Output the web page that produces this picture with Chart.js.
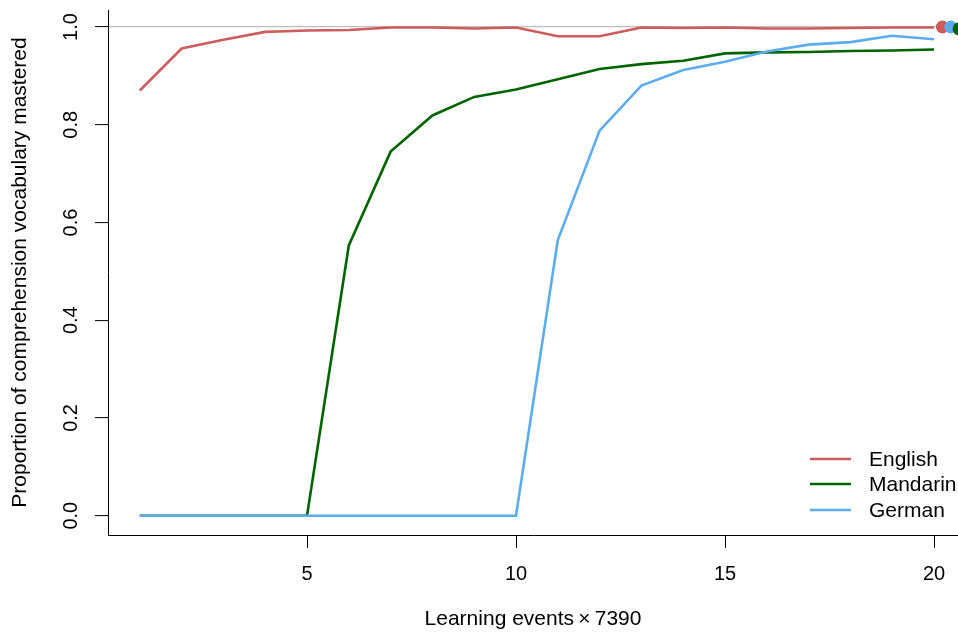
<!DOCTYPE html>
<html>
<head>
<meta charset="utf-8">
<script src="https://cdn.jsdelivr.net/npm/chart.js@4/dist/chart.umd.min.js"></script>
<style>
html,body{margin:0;padding:0;background:#fff;overflow:hidden;}
#wrap{position:relative;width:958px;height:637px;}
</style>
</head>
<body>
<div id="wrap"><canvas id="c" width="958" height="637"></canvas></div>
<script>
// ---- data ----
const steps = [1,2,3,4,5,6,7,8,9,10,11,12,13,14,15,16,17,18,19,20];
const english  = [0.870,0.956,0.974,0.990,0.993,0.994,0.999,0.999,0.997,0.999,0.981,0.981,0.999,0.998,0.999,0.997,0.997,0.998,0.999,0.999];
const mandarin = [0,0,0,0,0,0.553,0.745,0.819,0.857,0.872,0.893,0.914,0.924,0.931,0.946,0.948,0.949,0.951,0.952,0.954];
const german   = [0,0,0,0,0,0,0,0,0,0,0.564,0.788,0.880,0.912,0.929,0.950,0.964,0.969,0.982,0.975];
const languages = ['English','Mandarin','German'];
const colors = ['#CD5C5C','#006400','#5CACEE'];
const endX = [20.2, 20.6, 20.4];      // end markers (English, Mandarin, German)
const endY = [1.0, 0.996, 1.0];
const xTicks = [5,10,15,20];
const yTicks = [0,0.2,0.4,0.6,0.8,1.0];
const xTitle = 'Learning events\u2009\u00D7\u20097390';
const yTitle = 'Proportion of comprehension vocabulary mastered';

const FONT = "'Liberation Sans', Arial, Helvetica, sans-serif";
Chart.defaults.color = '#000';
Chart.defaults.font.family = FONT;

const series = [english, mandarin, german];
const datasets = [];
// end markers: Mandarin on top, then German, then English
const markerOrder = [3,1,2];
series.forEach((s, i) => {
  datasets.push({
    type: 'scatter',
    label: languages[i] + ' end',
    data: [{x: endX[i], y: endY[i]}],
    backgroundColor: colors[i],
    borderColor: colors[i],
    pointRadius: 6.5,
    pointBorderWidth: 0,
    clip: false,
    order: markerOrder[i]
  });
});
const lineOrder = [6,5,4];
series.forEach((s, i) => {
  datasets.push({
    type: 'line',
    label: languages[i],
    data: steps.map((x, k) => ({x: x, y: s[k]})),
    borderColor: colors[i],
    backgroundColor: colors[i],
    borderWidth: 2.6,
    pointRadius: 0,
    tension: 0,
    fill: false,
    order: lineOrder[i]
  });
});

const legendPlugin = {
  id: 'rlegend',
  afterDraw(chart) {
    const ctx = chart.ctx;
    const ys = [459, 484, 510];
    ctx.save();
    ctx.font = '21px ' + FONT;
    ctx.textBaseline = 'middle';
    ctx.textAlign = 'left';
    languages.forEach((name, i) => {
      ctx.strokeStyle = colors[i];
      ctx.lineWidth = 2.6;
      ctx.beginPath();
      ctx.moveTo(810, ys[i]);
      ctx.lineTo(851, ys[i]);
      ctx.stroke();
      ctx.fillStyle = '#000';
      ctx.fillText(name, 869, ys[i] + 1);
    });
    ctx.restore();
  }
};

new Chart(document.getElementById('c'), {
  data: { datasets },
  options: {
    responsive: false,
    animation: false,
    devicePixelRatio: 1,
    layout: { autoPadding: false, padding: { top: 10, right: 0, left: 0, bottom: 0 } },
    plugins: { legend: { display: false }, tooltip: { enabled: false } },
    scales: {
      x: {
        type: 'linear',
        position: 'bottom',
        min: 0.239,
        max: 20.574,
        afterBuildTicks: (sc) => { sc.ticks = xTicks.map(v => ({value: v})); },
        afterFit: (sc) => { sc.height = 102; sc.paddingLeft = 0; sc.paddingRight = 0; },
        ticks: {
          autoSkip: false,
          maxRotation: 0, minRotation: 0,
          padding: 14,
          color: '#000',
          font: { size: 20, family: FONT },
          callback: (v) => String(v)
        },
        grid: { drawOnChartArea: false, drawTicks: true, tickLength: 13, tickColor: '#000', tickWidth: 1 },
        border: { display: true, color: '#000', width: 1 },
        title: { display: true, text: xTitle, color: '#000', font: { size: 21, family: FONT }, padding: { top: 0, bottom: 5.4 } }
      },
      y: {
        type: 'linear',
        position: 'left',
        min: -0.0395,
        max: 1.0348,
        afterBuildTicks: (sc) => { sc.ticks = yTicks.map(v => ({value: v})); },
        afterFit: (sc) => { sc.width = 108; sc.paddingTop = 0; sc.paddingBottom = 0; },
        ticks: {
          autoSkip: false,
          minRotation: 90, maxRotation: 90,
          crossAlign: 'center',
          padding: 10,
          color: '#000',
          font: { size: 20, family: FONT },
          callback: (v) => Number(v).toFixed(1)
        },
        grid: {
          drawOnChartArea: true,
          color: (c) => (c.tick && Math.abs(c.tick.value - 1) < 1e-9) ? '#BEBEBE' : 'rgba(0,0,0,0)',
          lineWidth: 1.2,
          drawTicks: true, tickLength: 13, tickColor: '#000', tickWidth: 1
        },
        border: { display: true, color: '#000', width: 1 },
        title: { display: true, text: yTitle, color: '#000', font: { size: 21, family: FONT }, padding: { top: 7.4, bottom: 0 } }
      }
    }
  },
  plugins: [legendPlugin]
});
</script>
</body>
</html>
